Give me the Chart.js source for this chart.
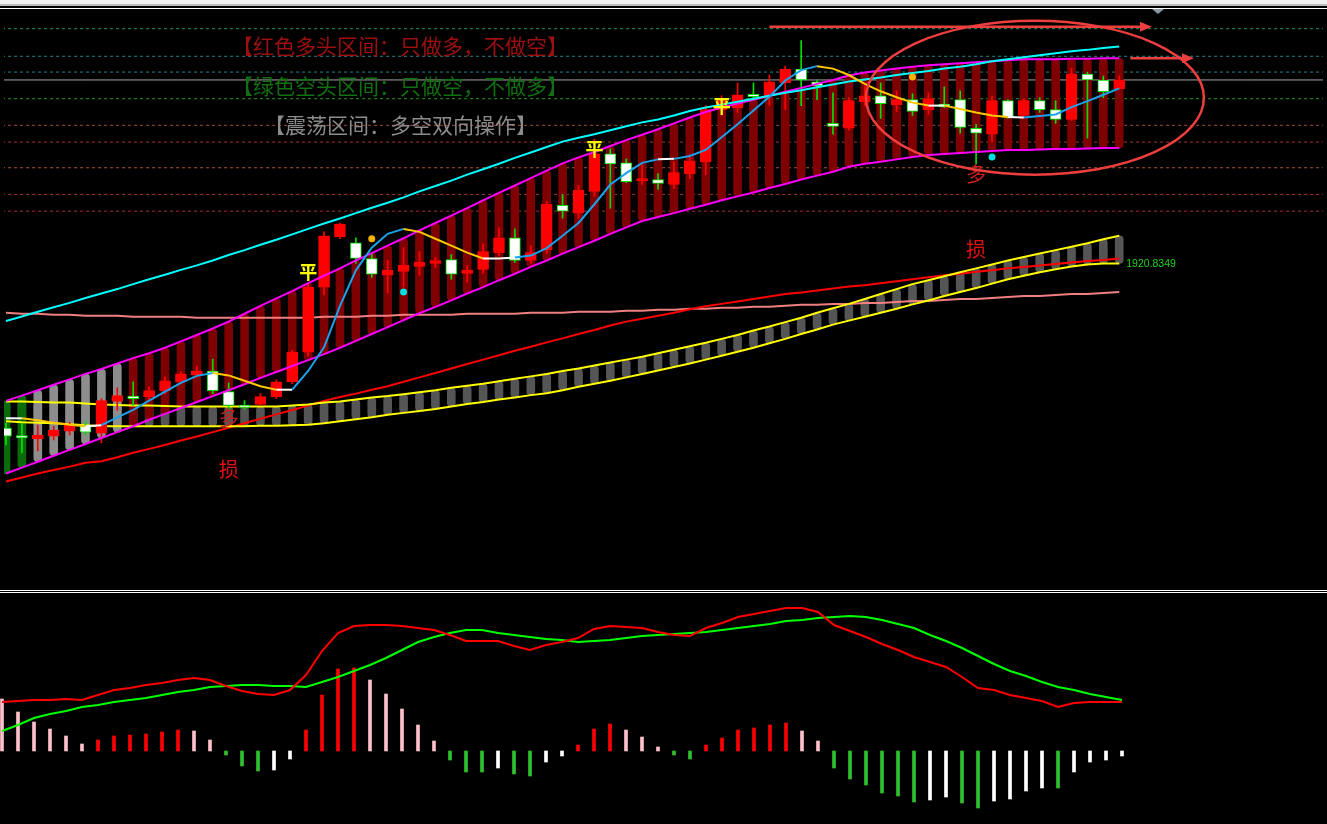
<!DOCTYPE html>
<html>
<head>
<meta charset="utf-8">
<title>XAUUSD H1</title>
<script src="https://cdn.jsdelivr.net/npm/chart.js@4.4.0/dist/chart.umd.min.js"></script>
<style>
    html, body { margin: 0; padding: 0; background: #000; overflow: hidden; }
    #wrap { position: relative; width: 1327px; height: 824px; background: #000; }
    #main { position: absolute; left: 0; top: 0; }
    #macd { position: absolute; left: 0; top: 594px; }
    .strip { position: absolute; left: 0; width: 1327px; }
    #tri { position: absolute; left: 1152px; top: 9px; width: 0; height: 0;
           border-left: 6px solid transparent; border-right: 6px solid transparent; border-top: 5px solid #8c98a4; }
</style>
</head>
<body>
<div id="wrap">
    <canvas id="main" width="1327" height="590"></canvas>
    <canvas id="macd" width="1327" height="230"></canvas>
    <div class="strip" style="top:0;height:4px;background:#efefef"></div>
    <div class="strip" style="top:4px;height:2px;background:#bcbcbc"></div>
    <div class="strip" style="top:6px;height:2px;background:#000"></div>
    <div class="strip" style="top:8px;height:1px;background:#fff"></div>
    <div id="tri"></div>
    <div class="strip" style="top:590px;height:1px;background:#fff"></div>
    <div class="strip" style="top:592px;height:1px;background:#fff"></div>
</div>
<script>
// candles (price)
const opens = [1903.6,1902.85,1902.5,1902.8,1903.3,1903.9,1903.1,1906.3,1906.85,1906.8,
    1907.4,1908.3,1909.0,1909.4,1907.3,1905.95,1906.0,1906.8,1908.3,1911.3,
    1917.9,1923.0,1922.4,1920.8,1919.1,1919.5,1920.0,1920.3,1920.7,1919.3,
    1919.7,1921.4,1922.9,1920.6,1921.7,1926.2,1925.4,1927.6,1931.4,1930.5,
    1928.7,1928.8,1928.3,1929.4,1930.6,1935.9,1936.1,1937.45,1937.3,1938.6,
    1940.0,1938.7,1934.5,1934.0,1936.7,1937.3,1936.4,1936.9,1935.9,1936.45,
    1936.9,1934.0,1933.4,1936.8,1935.3,1936.8,1935.9,1934.9,1939.5,1938.9,
    1938.0];
const highs = [1904.1,1904.1,1903.9,1903.8,1904.2,1904.3,1906.6,1907.7,1908.3,1907.8,
    1908.8,1909.3,1909.9,1910.6,1908.2,1906.4,1907.1,1908.5,1911.5,1918.3,
    1923.5,1924.4,1922.9,1921.3,1920.6,1921.9,1921.5,1920.9,1921.2,1920.1,
    1922.3,1923.9,1923.8,1922.1,1926.6,1927.3,1928.2,1932.9,1931.9,1930.9,
    1930.3,1929.4,1930.6,1931.3,1936.3,1937.3,1938.6,1938.6,1939.4,1940.3,
    1942.9,1938.9,1937.6,1937.1,1938.3,1938.6,1937.8,1937.5,1937.6,1938.2,
    1937.8,1934.4,1937.3,1936.9,1937.0,1937.1,1936.8,1940.1,1939.7,1939.3,
    1939.3];
const lows = [1901.9,1901.1,1901.3,1902.4,1902.9,1902.9,1902.1,1905.4,1905.9,1906.4,
    1907.1,1908.1,1908.8,1907.1,1905.4,1905.5,1905.9,1906.6,1908.1,1910.9,
    1917.1,1922.8,1920.3,1918.9,1917.3,1917.9,1919.1,1919.9,1918.7,1918.4,
    1919.3,1921.1,1920.4,1920.3,1921.3,1924.9,1924.9,1927.1,1925.9,1928.5,
    1928.3,1927.8,1927.9,1928.9,1929.3,1935.3,1935.6,1936.8,1936.3,1935.9,
    1936.3,1936.9,1933.4,1933.8,1936.3,1935.0,1935.7,1935.3,1935.4,1936.1,
    1933.5,1930.4,1932.6,1935.0,1935.1,1935.6,1934.5,1934.8,1933.0,1937.1,
    1938.0];
const closes = [1902.8,1902.6,1902.9,1903.4,1903.9,1903.2,1906.4,1906.9,1906.6,1907.4,
    1908.4,1909.1,1909.4,1907.4,1905.9,1905.7,1906.8,1908.3,1911.3,1917.9,
    1923.1,1924.3,1920.8,1919.2,1919.6,1920.1,1920.4,1920.6,1919.2,1919.6,
    1921.5,1922.9,1920.6,1921.4,1926.3,1925.6,1927.7,1931.4,1930.4,1928.6,
    1928.9,1928.4,1929.5,1930.7,1935.9,1936.9,1937.4,1937.2,1938.7,1940.0,
    1938.9,1938.3,1934.2,1936.8,1937.3,1936.5,1936.9,1935.7,1937.0,1936.2,
    1934.1,1933.5,1936.8,1935.1,1936.8,1935.9,1934.9,1939.5,1938.9,1937.7,
    1938.9];

// indicator lines
const midLine = [1904.6,1904.6,1904.4,1904.15,1903.95,1903.8,1903.9,1904.7,1905.45,1906.4,
    1907.3,1908.2,1908.9,1909.2,1908.95,1908.4,1907.85,1907.5,1907.5,1909.4,
    1911.8,1916.0,1919.6,1921.9,1923.3,1923.8,1923.5,1922.8,1922.1,1921.4,
    1920.8,1920.8,1920.9,1921.1,1921.85,1923.1,1924.4,1926.3,1928.3,1929.45,
    1930.5,1930.85,1930.9,1931.2,1931.8,1933.1,1934.4,1935.8,1937.2,1938.85,
    1939.9,1940.3,1940.05,1939.4,1938.5,1937.75,1937.15,1936.6,1936.3,1936.3,
    1935.95,1935.6,1935.3,1935.15,1935.1,1935.25,1935.4,1936.15,1936.75,1937.4,
    1938.05];
const bandUpper = [1906.37,1906.9,1907.45,1908.0,1908.55,1909.1,1909.6,1910.15,1910.7,1911.2,
    1911.75,1912.4,1913.05,1913.7,1914.4,1915.2,1916.0,1916.75,1917.5,1918.3,
    1919.05,1919.8,1920.6,1921.35,1922.1,1922.85,1923.65,1924.4,1925.15,1925.9,
    1926.7,1927.45,1928.2,1928.95,1929.7,1930.45,1931.05,1931.6,1932.2,1932.8,
    1933.35,1933.9,1934.5,1935.1,1935.65,1936.1,1936.5,1936.9,1937.3,1937.7,
    1938.1,1938.5,1938.9,1939.35,1939.65,1939.85,1940.05,1940.25,1940.4,1940.5,
    1940.6,1940.7,1940.8,1940.9,1941.0,1941.0,1941.0,1941.05,1941.05,1941.1,
    1941.1];
const bandLower = [1899.0,1899.6,1900.2,1900.8,1901.4,1902.0,1902.6,1903.2,1903.8,1904.45,
    1905.05,1905.65,1906.25,1906.85,1907.45,1908.05,1908.7,1909.3,1909.9,1910.5,
    1911.1,1911.75,1912.45,1913.15,1913.85,1914.55,1915.25,1915.9,1916.55,1917.25,
    1917.9,1918.6,1919.25,1919.95,1920.6,1921.3,1921.95,1922.6,1923.3,1923.95,
    1924.6,1925.0,1925.4,1925.85,1926.25,1926.7,1927.1,1927.5,1927.95,1928.35,
    1928.8,1929.2,1929.6,1930.1,1930.4,1930.6,1930.85,1931.1,1931.3,1931.4,
    1931.5,1931.6,1931.7,1931.8,1931.8,1931.85,1931.9,1931.9,1931.95,1932.0,
    1932.0];
const cyanLine = [1914.46,1914.92,1915.4,1915.85,1916.3,1916.8,1917.25,1917.7,1918.2,1918.7,
    1919.15,1919.65,1920.1,1920.6,1921.15,1921.65,1922.2,1922.7,1923.25,1923.8,
    1924.35,1924.85,1925.4,1925.95,1926.45,1927.0,1927.6,1928.15,1928.7,1929.3,
    1929.85,1930.4,1931.0,1931.55,1932.1,1932.65,1933.05,1933.4,1933.8,1934.2,
    1934.6,1934.9,1935.3,1935.75,1936.1,1936.4,1936.7,1937.0,1937.3,1937.6,
    1937.85,1938.15,1938.45,1938.75,1938.95,1939.15,1939.4,1939.6,1939.8,1940.05,
    1940.25,1940.5,1940.8,1941.0,1941.2,1941.4,1941.6,1941.8,1941.95,1942.15,
    1942.3];
const redLine = [1898.2,1898.6,1899.0,1899.35,1899.7,1900.1,1900.25,1900.65,1901.1,1901.5,
    1901.9,1902.35,1902.75,1903.2,1903.65,1904.1,1904.55,1905.0,1905.45,1905.9,
    1906.35,1906.75,1907.1,1907.5,1907.85,1908.3,1908.75,1909.2,1909.65,1910.1,
    1910.55,1911.0,1911.45,1911.85,1912.3,1912.7,1913.15,1913.55,1914.0,1914.4,
    1914.7,1915.0,1915.3,1915.65,1915.95,1916.2,1916.45,1916.7,1916.95,1917.2,
    1917.35,1917.55,1917.75,1917.95,1918.1,1918.3,1918.5,1918.7,1918.9,1919.1,
    1919.25,1919.45,1919.6,1919.8,1919.95,1920.1,1920.25,1920.4,1920.55,1920.65,
    1920.8];
const salmonLine = [1915.3,1915.2,1915.2,1915.1,1915.1,1915.0,1915.0,1915.0,1914.9,1914.9,
    1914.9,1914.9,1914.8,1914.8,1914.8,1914.8,1914.8,1914.8,1914.8,1914.8,
    1914.9,1914.9,1914.9,1915.0,1915.0,1915.1,1915.1,1915.1,1915.1,1915.2,
    1915.2,1915.2,1915.2,1915.3,1915.3,1915.3,1915.4,1915.4,1915.4,1915.5,
    1915.5,1915.6,1915.6,1915.7,1915.7,1915.8,1915.8,1915.9,1915.9,1916.0,
    1916.1,1916.1,1916.2,1916.2,1916.3,1916.3,1916.4,1916.5,1916.5,1916.6,
    1916.7,1916.7,1916.8,1916.9,1917.0,1917.0,1917.1,1917.2,1917.2,1917.3,
    1917.4];
const yellowUpper = [1906.3,1906.3,1906.25,1906.2,1906.2,1906.1,1906.0,1905.95,1905.9,1905.9,
    1905.85,1905.8,1905.8,1905.8,1905.8,1905.8,1905.8,1905.8,1905.9,1906.0,
    1906.2,1906.3,1906.5,1906.7,1906.85,1907.05,1907.25,1907.45,1907.7,1907.9,
    1908.1,1908.35,1908.6,1908.85,1909.1,1909.4,1909.65,1909.95,1910.25,1910.55,
    1910.85,1911.2,1911.55,1911.9,1912.25,1912.65,1913.05,1913.5,1913.9,1914.35,
    1914.8,1915.3,1915.75,1916.2,1916.7,1917.2,1917.7,1918.2,1918.6,1919.0,
    1919.4,1919.8,1920.2,1920.6,1920.95,1921.3,1921.65,1922.0,1922.35,1922.75,
    1923.1];
const yellowLower = [1904.3,1904.2,1904.15,1904.1,1904.0,1903.9,1903.8,1903.8,1903.8,1903.8,
    1903.8,1903.8,1903.8,1903.8,1903.8,1903.8,1903.85,1903.85,1903.9,1903.95,
    1904.1,1904.3,1904.5,1904.7,1904.95,1905.15,1905.35,1905.55,1905.8,1906.05,
    1906.25,1906.5,1906.7,1906.95,1907.15,1907.45,1907.8,1908.1,1908.4,1908.75,
    1909.1,1909.45,1909.8,1910.15,1910.55,1910.95,1911.35,1911.75,1912.2,1912.65,
    1913.15,1913.6,1914.1,1914.5,1914.9,1915.3,1915.7,1916.15,1916.55,1917.0,
    1917.4,1917.8,1918.25,1918.7,1919.05,1919.4,1919.7,1920.0,1920.2,1920.3,
    1920.3];

// G = bear, N = range, R = bull
const bandState = [...'GGNNNNNN', ...'R'.repeat(63)];

// horizontal price levels
const levelPrices = [1944.1, 1941.3, 1939.7, 1938.9, 1937.0, 1934.3, 1932.6, 1930.0, 1927.3, 1925.6];
const levelColors = ['#22946a', '#23858c', '#23858c', '#a6a6a6', '#229a22', '#a34a3a', '#a83232', '#ad5a30', '#a83232', '#a83232'];

// signal marks
const pingIdx = [19, 37, 45];
const pingPrice = [1919.4, 1931.9, 1936.2];
const duoIdx = [14, 61];
const duoPrice = [1904.6, 1929.3];
const sunIdx = [14, 61];
const sunPrice = [1899.4, 1921.7];
const goldDots = [{ x: 23, y: 1922.8 }, { x: 57, y: 1939.2 }];
const cyanDots = [{ x: 25, y: 1917.4 }, { x: 62, y: 1931.1 }];
const lastLabel = '1920.8349';

// MACD
const macdHist = [5.2,3.9,2.9,2.2,1.5,0.7,1.1,1.5,1.6,1.7,
    1.9,2.1,2.0,1.1,-0.4,-1.5,-2.0,-1.9,-0.8,2.1,
    5.6,8.2,8.3,7.1,5.7,4.2,2.6,1.0,-0.9,-2.1,
    -2.1,-1.7,-2.3,-2.5,-1.1,-0.5,0.6,2.2,2.7,2.1,
    1.4,0.4,-0.4,-0.8,0.6,1.3,2.1,2.3,2.6,2.8,
    2.0,1.0,-1.7,-2.8,-3.4,-4.2,-4.5,-5.1,-4.9,-4.6,
    -5.2,-5.7,-5.0,-4.8,-4.0,-3.7,-3.7,-2.1,-1.1,-0.9,
    -0.5];
const macdDif = [4.9,5.0,5.1,5.1,5.2,5.1,5.6,6.1,6.3,6.6,
    6.8,7.1,7.3,7.1,6.5,6.0,5.7,5.6,6.1,7.6,
    10.0,11.8,12.5,12.6,12.6,12.5,12.3,12.1,11.6,11.0,
    11.0,11.0,10.5,10.1,10.6,10.9,11.3,12.2,12.5,12.4,
    12.3,11.9,11.6,11.5,12.3,12.8,13.4,13.7,14.0,14.3,
    14.3,13.9,12.6,12.0,11.4,10.7,10.1,9.4,8.9,8.4,
    7.4,6.3,6.1,5.6,5.3,5.0,4.4,4.8,4.9,4.9,
    4.9];
const macdDea = [2.0,2.6,3.3,3.7,4.0,4.4,4.6,4.9,5.1,5.3,
    5.6,5.9,6.1,6.4,6.5,6.6,6.6,6.5,6.5,6.4,
    6.9,7.4,8.0,8.6,9.3,10.1,10.9,11.4,11.8,12.1,
    12.1,11.8,11.6,11.4,11.2,11.1,10.9,11.0,11.1,11.3,
    11.5,11.6,11.7,11.8,11.9,12.1,12.3,12.5,12.7,13.0,
    13.1,13.3,13.4,13.5,13.4,13.1,12.7,12.3,11.6,11.0,
    10.3,9.5,8.7,8.0,7.5,6.9,6.4,6.1,5.7,5.4,
    5.1];

document.addEventListener("DOMContentLoaded", () => {
    const pts = arr => arr.map((v, i) => ({ x: i, y: v }));
    const span = (a, b) => a.map((v, i) => ({ x: i, y: [b[i], v] }));
    const isUp = closes.map((c, i) => c >= opens[i]);

    const xScale = { type: "linear", min: -0.125, max: 82.8125, offset: false, display: false };

    const lineDs = (data, color, order, extra) => Object.assign({
        type: "line", data: pts(data), borderColor: color, borderWidth: 2,
        pointRadius: 0, tension: 0, order: order
    }, extra || {});

    const levelSets = levelPrices.map((p, k) => ({
        type: "line",
        data: [{ x: -1, y: p }, { x: 90, y: p }],
        borderColor: levelColors[k],
        borderWidth: 1,
        borderDash: k === 3 ? [] : [3, 3],
        pointRadius: 0,
        order: 100
    }));

    const stateColor = { G: "#0a6b0a", N: "#8d8d8d", R: "#7f0000" };

    // แผงบน: ราคา + ช่องแนวโน้ม
    const overlay = {
        id: "overlay",
        afterDatasetsDraw(chart) {
            const { ctx, scales: { x, y } } = chart;
            ctx.save();
            ctx.textBaseline = "middle";

            ctx.font = '21px "Noto Sans CJK SC"';
            ctx.textAlign = "left";
            ctx.fillStyle = "#9e1010";
            ctx.fillText("【红色多头区间：只做多，不做空】", 232, 46);
            ctx.fillStyle = "#11700f";
            ctx.fillText("【绿色空头区间：只做空，不做多】", 232, 86);
            ctx.fillStyle = "#8c8c8c";
            ctx.fillText("【震荡区间：多空双向操作】", 264, 125);

            ctx.textAlign = "center";
            ctx.font = 'bold 18px "Noto Sans CJK SC"';
            ctx.fillStyle = "#ffff00";
            pingIdx.forEach((i, k) => ctx.fillText("平", x.getPixelForValue(i), y.getPixelForValue(pingPrice[k])));
            ctx.font = '20px "Noto Sans CJK SC"';
            ctx.fillStyle = "#c81e1e";
            duoIdx.forEach((i, k) => ctx.fillText("多", x.getPixelForValue(i), y.getPixelForValue(duoPrice[k])));
            ctx.fillStyle = "#e01010";
            sunIdx.forEach((i, k) => ctx.fillText("损", x.getPixelForValue(i), y.getPixelForValue(sunPrice[k])));

            const last = redLine.length - 1;
            ctx.textAlign = "left";
            ctx.font = '10.5px "Liberation Sans"';
            ctx.fillStyle = "#1fd31f";
            ctx.fillText(lastLabel, x.getPixelForValue(last) + 7, y.getPixelForValue(redLine[last]) + 6);

            // hand drawn marks
            ctx.strokeStyle = "#ee3e3e";
            ctx.fillStyle = "#ee3e3e";
            ctx.lineWidth = 2.5;
            ctx.beginPath();
            ctx.ellipse(x.getPixelForValue(64.7), y.getPixelForValue(1937.1), 169, 77, 0, 0, Math.PI * 2);
            ctx.stroke();

            const arrow = (i0, i1, p) => {
                const ax = x.getPixelForValue(i0), bx = x.getPixelForValue(i1), yy = y.getPixelForValue(p);
                ctx.beginPath();
                ctx.moveTo(ax, yy);
                ctx.lineTo(bx - 10, yy);
                ctx.stroke();
                ctx.beginPath();
                ctx.moveTo(bx, yy);
                ctx.lineTo(bx - 12, yy - 5);
                ctx.lineTo(bx - 12, yy + 5);
                ctx.closePath();
                ctx.fill();
            };
            arrow(48, 72.06, 1944.3);
            arrow(70.7, 74.7, 1941.1);
            ctx.restore();
        }
    };

    new Chart(document.getElementById("main").getContext("2d"), {
        type: "bar",
        data: {
            datasets: [
                ...levelSets,
                {
                    type: "bar", data: span(yellowUpper, yellowLower),
                    backgroundColor: "#555555", barThickness: 8, borderRadius: 4,
                    borderSkipped: false, grouped: false, order: 95
                },
                {
                    type: "bar", data: span(bandUpper, bandLower),
                    backgroundColor: bandState.map(s => stateColor[s]), barThickness: 8, borderRadius: 4,
                    borderSkipped: false, grouped: false, order: 90
                },
                lineDs(salmonLine, "#f08080", 60),
                lineDs(redLine, "#ff0000", 59),
                lineDs(yellowUpper, "#ffff00", 58),
                lineDs(yellowLower, "#ffff00", 58),
                {
                    type: "bar", data: span(highs, lows),
                    backgroundColor: isUp.map(u => u ? "#ff0000" : "#00e000"),
                    barThickness: 1, grouped: false, borderSkipped: false, order: 40
                },
                {
                    type: "bar", data: span(closes, opens),
                    backgroundColor: isUp.map(u => u ? "#ff0000" : "#ffffff"),
                    borderColor: isUp.map(u => u ? "#ff0000" : "#00e000"),
                    borderWidth: 1, barThickness: 11, grouped: false, borderSkipped: false, order: 39
                },
                lineDs(bandUpper, "#ff00ff", 30),
                lineDs(bandLower, "#ff00ff", 30),
                lineDs(cyanLine, "#00ffff", 29),
                lineDs(midLine, "#1aa3ec", 20, {
                    segment: {
                        borderColor: c => {
                            const d = c.p1.parsed.y - c.p0.parsed.y;
                            if (d > 0.12) return "#1aa3ec";
                            if (d < -0.12) return "#ffc800";
                            return "#ffffff";
                        }
                    }
                }),
                { type: "scatter", data: goldDots, backgroundColor: "#f5b400", borderWidth: 0, pointRadius: 3.5, order: 10 },
                { type: "scatter", data: cyanDots, backgroundColor: "#00e0e0", borderWidth: 0, pointRadius: 3.5, order: 10 }
            ]
        },
        options: {
            responsive: false,
            animation: false,
            events: [],
            layout: { padding: 0 },
            plugins: { legend: { display: false }, tooltip: { enabled: false } },
            scales: {
                x: xScale,
                y: { type: "linear", min: 1887.6, max: 1946.6, display: false }
            }
        },
        plugins: [overlay]
    });

    // แผงล่าง: MACD
    const histColors = macdHist.map((v, i) => {
        const prev = i > 0 ? macdHist[i - 1] : Infinity;
        if (v >= 0) return v >= prev ? "#ff0000" : "#ffc0cb";
        return v <= prev ? "#30c030" : "#ffffff";
    });

    new Chart(document.getElementById("macd").getContext("2d"), {
        type: "bar",
        data: {
            datasets: [
                {
                    type: "bar", data: pts(macdHist), backgroundColor: histColors,
                    barThickness: 3, grouped: false, order: 10
                },
                lineDs(macdDea, "#00ff00", 2),
                lineDs(macdDif, "#ff0000", 1)
            ]
        },
        options: {
            responsive: false,
            animation: false,
            events: [],
            layout: { padding: 0 },
            plugins: { legend: { display: false }, tooltip: { enabled: false } },
            scales: {
                x: xScale,
                y: { type: "linear", min: -7.3, max: 15.7, display: false }
            }
        }
    });
});
</script>
</body>
</html>
